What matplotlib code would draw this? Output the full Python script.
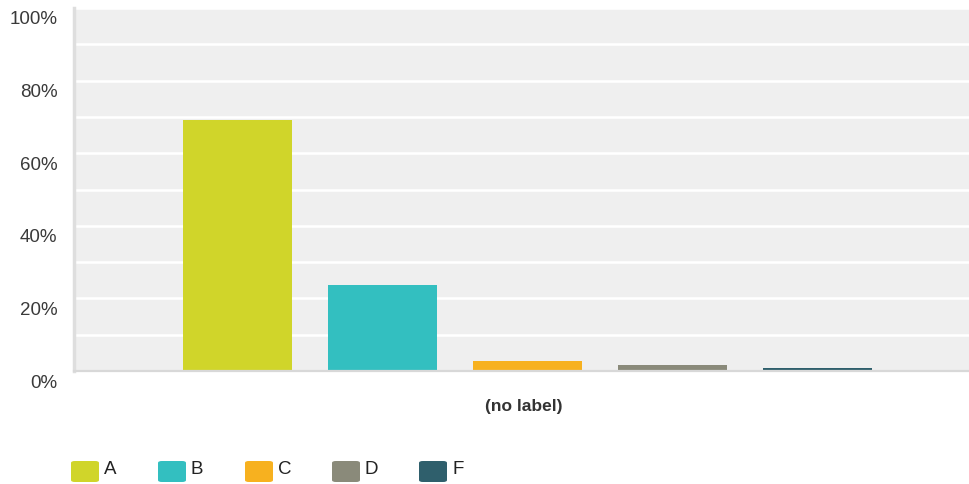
import matplotlib
matplotlib.use('Agg')
import matplotlib.pyplot as plt
import matplotlib.transforms as mtransforms
from matplotlib.patches import FancyBboxPatch
import numpy as np

plt.rcParams['font.family'] = ['Liberation Sans', 'DejaVu Sans']

# Data
categories = ['A', 'B', 'C', 'D', 'F']
values = [69.2, 23.7, 2.8, 1.7, 0.8]
colors = ['#d0d52a', '#33bfc0', '#f7b11f', '#8a8a7a', '#2f5f6c']
yticks = [0, 20, 40, 60, 80, 100]

W, H = 969, 485
fig = plt.figure(figsize=(W / 100, H / 100), dpi=100)
ax = fig.add_axes([74 / W, 1 - 372 / H, (969 - 74) / W, (372 - 9) / H])
ax.set_facecolor('#efefef')

x = np.arange(len(categories))
ax.bar(x, values, width=0.75, color=colors, zorder=3)

ax.set_xlim(-1.128, 5.045)
ax.set_ylim(0, 100)
ax.set_yticks(yticks)
ax.set_yticklabels(['%d%%' % t for t in yticks], fontsize=13.5, color='#3a3a3a')
ax.set_yticks(np.arange(10, 100, 20), minor=True)
ax.set_xticks([])
ax.tick_params(axis='y', which='both', length=0, pad=12)
ax.grid(True, axis='y', which='both', color='white', lw=1.8, zorder=1)

# labels sit a little below their gridlines
offset = mtransforms.ScaledTranslation(0, -0.09, fig.dpi_scale_trans)
for lab in ax.get_yticklabels():
    lab.set_transform(lab.get_transform() + offset)

for s in ['top', 'right']:
    ax.spines[s].set_visible(False)
ax.spines['left'].set_color('#dedede')
ax.spines['left'].set_linewidth(2.5)
ax.spines['bottom'].set_color('#d8d8d8')
ax.spines['bottom'].set_linewidth(1.6)
ax.spines['bottom'].set_zorder(4)

fig.text(524 / W, 1 - 407 / H, '(no label)', ha='center', va='center',
         fontsize=12.5, fontweight='bold', color='#333333')

# Legend
for i, (cat, col) in enumerate(zip(categories, colors)):
    x0 = 71 + i * 87
    box = FancyBboxPatch((x0 / W, 1 - 483 / H), 28 / W, 21 / H,
                         boxstyle='round,pad=0,rounding_size=0.004',
                         transform=fig.transFigure, facecolor=col,
                         edgecolor='none')
    fig.patches.append(box)
    fig.text((x0 + 33) / W, 1 - 470 / H, cat, ha='left', va='center',
             fontsize=13.5, color='#222222')

fig.savefig('out.png', dpi=100)
